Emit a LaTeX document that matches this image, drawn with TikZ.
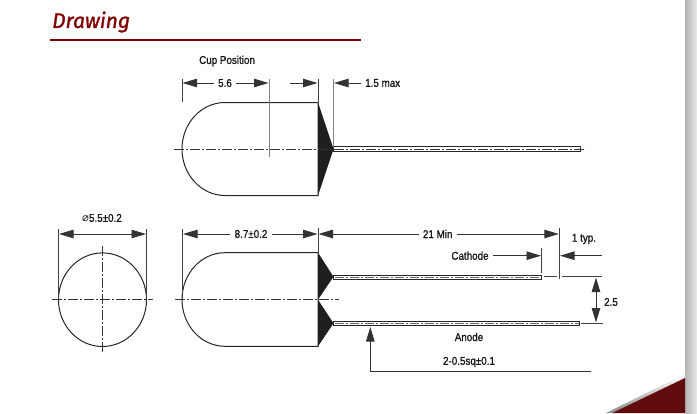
\documentclass[tikz,border=0pt]{standalone}
\usepackage{fontspec}
\setmainfont[FakeStretch=0.87,FakeBold=1.2]{Liberation Sans}
\newfontfamily\titlefont[FakeBold=1.2]{Fira Sans}
\newfontfamily\symfont{DejaVu Sans}
\usetikzlibrary{arrows.meta}
\definecolor{maroon}{RGB}{128,0,0}
\definecolor{cornerred}{RGB}{96,12,14}
\tikzset{
  bigtip/.tip={Triangle[length=14.5pt,width=8.5pt]},
  part/.style={line width=1pt, draw=black!85},
  extline/.style={line width=0.9pt, draw=black!75},
  dimline/.style={line width=0.9pt, draw=black!80, -bigtip},
  axisline/.style={line width=0.8pt, draw=black!80, dash pattern=on 10pt off 2pt on 2pt off 2pt},
  lbl/.style={font=\fontsize{11.3}{13}\selectfont, text=black!90, inner sep=4pt},
  leadwire/.style={line width=1pt, draw=black!85, fill=white}
}
\begin{document}
\begin{tikzpicture}[x=1pt,y=-1pt]
  \useasboundingbox (0,0) rectangle (697,413);
  % Page edge and corner
  \shade[left color=black!30, right color=black!8] (685,0) rectangle (697,413);
  \shade[top color=black!5, bottom color=black!40, shading angle=-26] (606,413) -- (685,374) -- (685,378) -- (612,413) -- cycle;
  \fill[cornerred] (612,413) -- (685,378) -- (685,413) -- cycle;

  % Title
  \node[anchor=west, inner sep=0pt, text=maroon] (title) at (52,22)
    {\titlefont\fontsize{21}{24}\selectfont\itshape Drawing};
  \coordinate (ruleL) at (50,40);
  \coordinate (ruleR) at (361,40);
  \draw[maroon, line width=1.6pt] (ruleL) -- (ruleR);

  % Upper view
  \coordinate (topNW) at (225,102.5);
  \coordinate (topNE) at (318,102.5);
  \coordinate (topSE) at (318,195.5);
  \coordinate (topSW) at (225,195.5);
  \coordinate (topTip) at (333.5,149);
  \draw[part] (topNE) -- (topNW) arc[start angle=270, end angle=90, x radius=43, y radius=46.5] -- (topSE) -- cycle;
  \fill[black!88] (topNE) -- (topTip) -- (topSE) -- cycle;
  \draw[leadwire] (333.5,146.7) rectangle (580,151.5);
  \coordinate (topAxisL) at (174,149);
  \coordinate (topAxisR) at (586,149);
  \draw[axisline] (topAxisL) -- (topAxisR);

  % Upper view dimensions
  \foreach \xpos/\ybot/\shadeval in {182/102/75, 269/157/50, 318/102/75, 333.5/147/50} {
    \draw[extline, draw=black!\shadeval] (\xpos,79) -- (\xpos,\ybot);
  }
  \node[lbl, anchor=west, inner sep=0pt] (cup) at (199,61) {Cup Position};
  \node[lbl] (dimA) at (225,83) {5.6};
  \coordinate (dimAl) at (182.5,83);
  \coordinate (dimAr) at (268.5,83);
  \draw[dimline] (dimA) -- (dimAl);
  \draw[dimline] (dimA) -- (dimAr);
  \coordinate (cupS) at (290,83);
  \coordinate (cupE) at (317.5,83);
  \draw[dimline] (cupS) -- (cupE);
  \node[lbl, anchor=west] (dimB) at (361,83) {1.5 max};
  \coordinate (dimBe) at (334,83);
  \draw[dimline] (dimB) -- (dimBe);

  % Front circle
  \coordinate (circC) at (102.5,299.7);
  \draw[part] (circC) ellipse[x radius=44, y radius=46.8];
  \draw[axisline] (52,299.7) -- (153,299.7);
  \draw[axisline] (102.5,246) -- (102.5,352);
  \draw[extline] (58.5,229) -- (58.5,299);
  \draw[extline] (146.5,229) -- (146.5,299);
  \node[lbl] (dimD) at (102,218) {{\symfont ⌀}5.5±0.2};
  \coordinate (dimDl) at (59,234);
  \coordinate (dimDr) at (146,234);
  \draw[dimline, bigtip-bigtip] (dimDl) -- (dimDr);

  % Lower view
  \coordinate (lowNW) at (225,252.7);
  \coordinate (lowNE) at (318,252.7);
  \coordinate (lowE) at (318,299.7);
  \coordinate (lowSE) at (318,346.3);
  \coordinate (lowSW) at (225,346.3);
  \coordinate (cathTip) at (333.5,276.7);
  \coordinate (anTip) at (333.5,323.3);
  \draw[part] (lowNE) -- (lowNW) arc[start angle=270, end angle=90, x radius=43, y radius=46.8] -- (lowSE) -- cycle;
  \fill[black!88] (lowNE) -- (cathTip) -- (lowE) -- cycle;
  \fill[black!88] (lowE) -- (anTip) -- (lowSE) -- cycle;
  \draw[leadwire] (333.5,275) rectangle (541.7,279);
  \draw[leadwire] (333.5,321.5) rectangle (579,325.5);
  \foreach \ypos/\xend in {277/541, 323.5/578.5} {
    \draw[black!60, line width=0.6pt, dash pattern=on 9pt off 2pt on 2pt off 2pt] (335,\ypos) -- (\xend,\ypos);
  }
  \draw[axisline] (175,299.7) -- (339,299.7);

  % Lower view dimensions
  \draw[extline] (182.3,229) -- (182.3,299);
  \draw[extline] (318,228) -- (318,252);
  \draw[extline] (559.3,228) -- (559.3,279);
  \draw[extline] (541.7,248) -- (541.7,273);
  \node[lbl] (dimE) at (251,234) {8.7±0.2};
  \coordinate (dimEl) at (183,234);
  \coordinate (dimEr) at (317.5,234);
  \draw[dimline] (dimE) -- (dimEl);
  \draw[dimline] (dimE) -- (dimEr);
  \node[lbl] (dimF) at (437.7,234) {21 Min};
  \coordinate (dimFl) at (318.5,234);
  \coordinate (dimFr) at (558.8,234);
  \draw[dimline] (dimF) -- (dimFl);
  \draw[dimline] (dimF) -- (dimFr);
  \node[lbl] (cath) at (470,255.7) {Cathode};
  \coordinate (cathE) at (541,255.7);
  \draw[dimline] (cath) -- (cathE);
  \node[lbl] (typ) at (584,239) {1 typ.};
  \coordinate (typS) at (601.7,255.7);
  \coordinate (typE) at (560,255.7);
  \draw[dimline] (typS) -- (typE);

  % Lead pitch
  \draw[extline] (543.5,276.7) -- (557,276.7);
  \draw[extline] (562,276.7) -- (601.5,276.7);
  \draw[extline] (581,323.3) -- (603,323.3);
  \coordinate (pitchC) at (596,300);
  \coordinate (pitchT) at (596,277.5);
  \coordinate (pitchB) at (596,322.5);
  \draw[dimline] (pitchC) -- (pitchT);
  \draw[dimline] (pitchC) -- (pitchB);
  \node[lbl, inner sep=0pt] (pitch) at (611,302) {2.5};
  \node[lbl] (anode) at (469,337) {Anode};

  % Wire size
  \node[lbl] (wire) at (469,362) {2-0.5sq±0.1};
  \coordinate (wireR) at (590.7,371.7);
  \coordinate (wireC) at (370.3,371.7);
  \coordinate (wireE) at (370.3,327);
  \draw[dimline] (wireR) -- (wireC) -- (wireE);
\end{tikzpicture}
\end{document}
